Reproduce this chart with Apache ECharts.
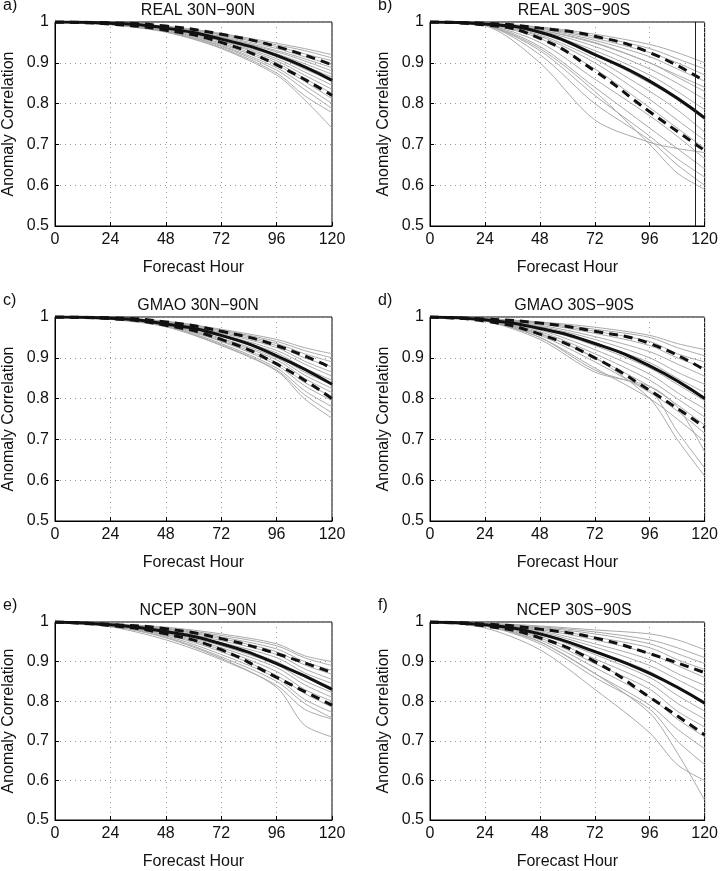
<html>
<head>
<meta charset="utf-8">
<script src="https://cdn.jsdelivr.net/npm/echarts@6/dist/echarts.min.js"></script>
</head>
<body style="margin:0;background:#fff">
<div id="main" style="width:721px;height:871px;"></div>
<script type="text/javascript">
var hours = [0, 24, 48, 72, 96, 120];
var grayHours = [0, 24, 48, 72, 96, 108, 120];

var titles = ['REAL 30N\u221290N', 'REAL 30S\u221290S', 'GMAO 30N\u221290N', 'GMAO 30S\u221290S', 'NCEP 30N\u221290N', 'NCEP 30S\u221290S'];
var letters = ['a)', 'b)', 'c)', 'd)', 'e)', 'f)'];

var aMean = [1, .997, .985, .958, .918, .857];
var aHi = [1, .998, .99, .97, .94, .895];
var aLo = [1, .995, .98, .95, .895, .82];
var aGray = [
  [1,.998,.99,.972,.948,.935,.92],[1,.998,.989,.97,.944,.93,.912],[1,.997,.988,.968,.94,.922,.905],
  [1,.997,.987,.965,.935,.915,.895],[1,.997,.987,.963,.93,.91,.888],[1,.997,.986,.962,.927,.905,.88],
  [1,.996,.985,.96,.922,.898,.872],[1,.996,.985,.958,.918,.892,.865],[1,.996,.984,.956,.915,.885,.855],
  [1,.996,.983,.954,.91,.878,.845],[1,.995,.982,.952,.905,.87,.835],[1,.995,.981,.948,.9,.862,.825],
  [1,.995,.98,.945,.895,.855,.812],[1,.994,.978,.942,.888,.845,.8],[1,.994,.977,.94,.882,.835,.788],
  [1,.994,.976,.937,.875,.82,.778],[1,.993,.975,.935,.87,.81,.74]
];

var bMean = [1, .995, .975, .92, .855, .765];
var bHi = [1, .997, .985, .965, .925, .855];
var bLo = [1, .993, .96, .88, .78, .685];
var bGray = [
  [1,.997,.988,.97,.945,.925,.9],[1,.997,.986,.965,.935,.91,.885],[1,.997,.985,.96,.925,.9,.87],
  [1,.996,.983,.955,.915,.885,.855],[1,.996,.98,.948,.9,.865,.83],[1,.996,.978,.94,.885,.85,.81],
  [1,.995,.975,.93,.87,.83,.785],[1,.995,.972,.92,.85,.81,.76],[1,.995,.968,.91,.83,.785,.73],
  [1,.994,.965,.9,.81,.76,.71],[1,.994,.96,.885,.79,.74,.69],[1,.993,.95,.86,.77,.72,.665],
  [1,.993,.94,.84,.74,.69,.64],[1,.992,.93,.82,.72,.665,.62],[1,.992,.92,.8,.71,.65,.6],
  [1,.991,.9,.76,.705,.69,.68],[1,.992,.935,.83,.7,.63,.59],[1,.996,.98,.95,.9,.87,.84]
];

var cMean = [1, .997, .983, .955, .905, .835];
var cHi = [1, .998, .988, .965, .93, .875];
var cLo = [1, .996, .98, .945, .885, .8];
var cGray = [
  [1,.998,.99,.97,.945,.925,.91],[1,.998,.989,.968,.94,.918,.9],[1,.997,.988,.966,.935,.91,.89],
  [1,.997,.987,.963,.93,.9,.878],[1,.997,.986,.96,.925,.892,.865],[1,.997,.985,.957,.918,.885,.855],
  [1,.996,.984,.955,.912,.875,.845],[1,.996,.983,.952,.905,.865,.835],[1,.996,.982,.948,.9,.858,.825],
  [1,.996,.981,.945,.895,.85,.815],[1,.995,.98,.942,.888,.84,.805],[1,.995,.979,.94,.882,.832,.795],
  [1,.995,.978,.935,.875,.82,.78],[1,.995,.977,.932,.87,.81,.765],[1,.994,.976,.93,.868,.8,.752]
];

var dMean = [1, .993, .972, .935, .88, .80];
var dHi = [1, .995, .985, .965, .935, .87];
var dLo = [1, .99, .958, .9, .82, .73];
var dGray = [
  [1,.996,.988,.975,.955,.935,.92],[1,.996,.987,.97,.95,.925,.905],[1,.995,.985,.965,.94,.91,.89],
  [1,.995,.983,.96,.93,.9,.875],[1,.995,.98,.952,.915,.885,.855],[1,.994,.977,.945,.9,.865,.835],
  [1,.994,.975,.937,.888,.85,.815],[1,.993,.972,.93,.875,.835,.795],[1,.993,.968,.92,.86,.815,.775],
  [1,.992,.964,.91,.845,.8,.755],[1,.992,.96,.9,.83,.785,.735],[1,.991,.955,.89,.815,.77,.715],
  [1,.991,.95,.875,.8,.75,.695],[1,.99,.945,.865,.83,.78,.67],[1,.991,.958,.9,.8,.7,.61],
  [1,.99,.95,.87,.82,.72,.63]
];

var eMean = [1, .993, .976, .945, .895, .83];
var eHi = [1, .994, .983, .958, .92, .872];
var eLo = [1, .991, .97, .93, .86, .79];
var eGray = [
  [1,.995,.987,.97,.945,.915,.9],[1,.995,.985,.966,.94,.91,.89],[1,.994,.983,.962,.932,.9,.878],
  [1,.994,.982,.958,.925,.892,.868],[1,.994,.98,.953,.918,.882,.855],[1,.993,.978,.948,.91,.872,.845],
  [1,.993,.976,.944,.9,.862,.835],[1,.993,.974,.94,.892,.852,.822],[1,.992,.972,.935,.885,.842,.81],
  [1,.992,.97,.93,.875,.83,.8],[1,.991,.968,.925,.865,.82,.785],[1,.991,.965,.918,.858,.805,.772],
  [1,.99,.962,.912,.85,.795,.758],[1,.988,.955,.905,.84,.78,.755],[1,.99,.96,.908,.835,.74,.71]
];

var fMean = [1, .993, .97, .925, .87, .795];
var fHi = [1, .995, .982, .96, .92, .872];
var fLo = [1, .99, .96, .9, .81, .715];
var fGray = [
  [1,.997,.99,.98,.97,.955,.93],[1,.996,.988,.975,.955,.935,.91],[1,.996,.986,.97,.945,.92,.895],
  [1,.995,.984,.962,.935,.905,.88],[1,.995,.981,.955,.92,.89,.86],[1,.994,.978,.945,.905,.87,.84],
  [1,.994,.975,.937,.89,.855,.82],[1,.993,.972,.928,.875,.835,.8],[1,.993,.968,.918,.86,.815,.775],
  [1,.992,.964,.907,.845,.795,.755],[1,.992,.96,.895,.83,.775,.735],[1,.991,.955,.885,.81,.755,.71],
  [1,.99,.95,.87,.79,.73,.68],[1,.99,.945,.86,.78,.7,.64],[1,.985,.93,.83,.72,.64,.6],
  [1,.99,.95,.87,.77,.67,.55]
];

var panels = [
  [aMean, aHi, aLo, aGray], [bMean, bHi, bLo, bGray],
  [cMean, cHi, cLo, cGray], [dMean, dHi, dLo, dGray],
  [eMean, eHi, eLo, eGray], [fMean, fHi, fLo, fGray]
];

var font = 'Liberation Sans, Arial, sans-serif';
var lefts = [54, 430];
var tops = [22, 317, 622];

function pairs(xs, ys) {
  return ys.map(function (v, i) { return [xs[i], v]; });
}

var grids = [], xAxes = [], yAxes = [], series = [], titleList = [], graphics = [];

panels.forEach(function (p, k) {
  var col = k % 2, row = Math.floor(k / 2);
  grids.push({ left: lefts[col], top: tops[row], width: 278, height: 204,
    show: true, borderColor: '#000', borderWidth: 1, backgroundColor: '#fff' });
  xAxes.push({ gridIndex: k, type: 'value', min: 0, max: 120, interval: 24,
    name: 'Forecast Hour', nameLocation: 'middle', nameGap: 34,
    nameTextStyle: { fontFamily: font, fontSize: 16, color: '#111' },
    axisLine: { lineStyle: { color: '#000' } },
    axisTick: { inside: true, length: 4, lineStyle: { color: '#000' } },
    axisLabel: { fontFamily: font, fontSize: 16, color: '#111', margin: 6 },
    splitLine: { show: true, lineStyle: { color: '#999', type: [1, 4] } } });
  yAxes.push({ gridIndex: k, type: 'value', min: 0.5, max: 1, interval: 0.1,
    name: 'Anomaly Correlation', nameLocation: 'middle', nameGap: 38,
    nameTextStyle: { fontFamily: font, fontSize: 16, color: '#111' },
    axisLine: { lineStyle: { color: '#000' } },
    axisTick: { inside: true, length: 4, lineStyle: { color: '#000' } },
    axisLabel: { fontFamily: font, fontSize: 16, color: '#111', margin: 6,
      formatter: function (v) { return v >= 0.999 ? '1' : v.toFixed(1); } },
    splitLine: { show: true, lineStyle: { color: '#999', type: [1, 4] } } });
  titleList.push({ text: titles[k], left: lefts[col] + 139, top: tops[row] - 24, textAlign: 'center',
    textStyle: { fontFamily: font, fontSize: 16, fontWeight: 'normal', color: '#111' } });
  graphics.push({ type: 'text', left: col === 0 ? 3 : 378, top: tops[row] - 24,
    style: { text: letters[k], font: '16px ' + font, fill: '#111' } });

  p[3].forEach(function (g) {
    series.push({ type: 'line', xAxisIndex: k, yAxisIndex: k, data: pairs(grayHours, g),
      smooth: 0.3, symbol: 'none', silent: true, lineStyle: { color: '#a9a9a9', width: 1 } });
  });
  [p[1], p[2]].forEach(function (d) {
    series.push({ type: 'line', xAxisIndex: k, yAxisIndex: k, data: pairs(hours, d),
      smooth: true, symbol: 'none', lineStyle: { color: '#111', width: 3, type: [9, 6] } });
  });
  var mean = { type: 'line', xAxisIndex: k, yAxisIndex: k, data: pairs(hours, p[0]),
    smooth: true, symbol: 'none', lineStyle: { color: '#111', width: 3 } };
  if (k === 1) {
    mean.markLine = { silent: true, symbol: 'none', label: { show: false },
      lineStyle: { color: '#222', width: 1, type: 'solid' }, data: [{ xAxis: 115.8 }] };
  }
  series.push(mean);
});

var myChart = echarts.init(document.getElementById('main'));
myChart.setOption({
  animation: false,
  title: titleList,
  grid: grids,
  xAxis: xAxes,
  yAxis: yAxes,
  graphic: graphics,
  series: series
});
</script>
</body>
</html>
